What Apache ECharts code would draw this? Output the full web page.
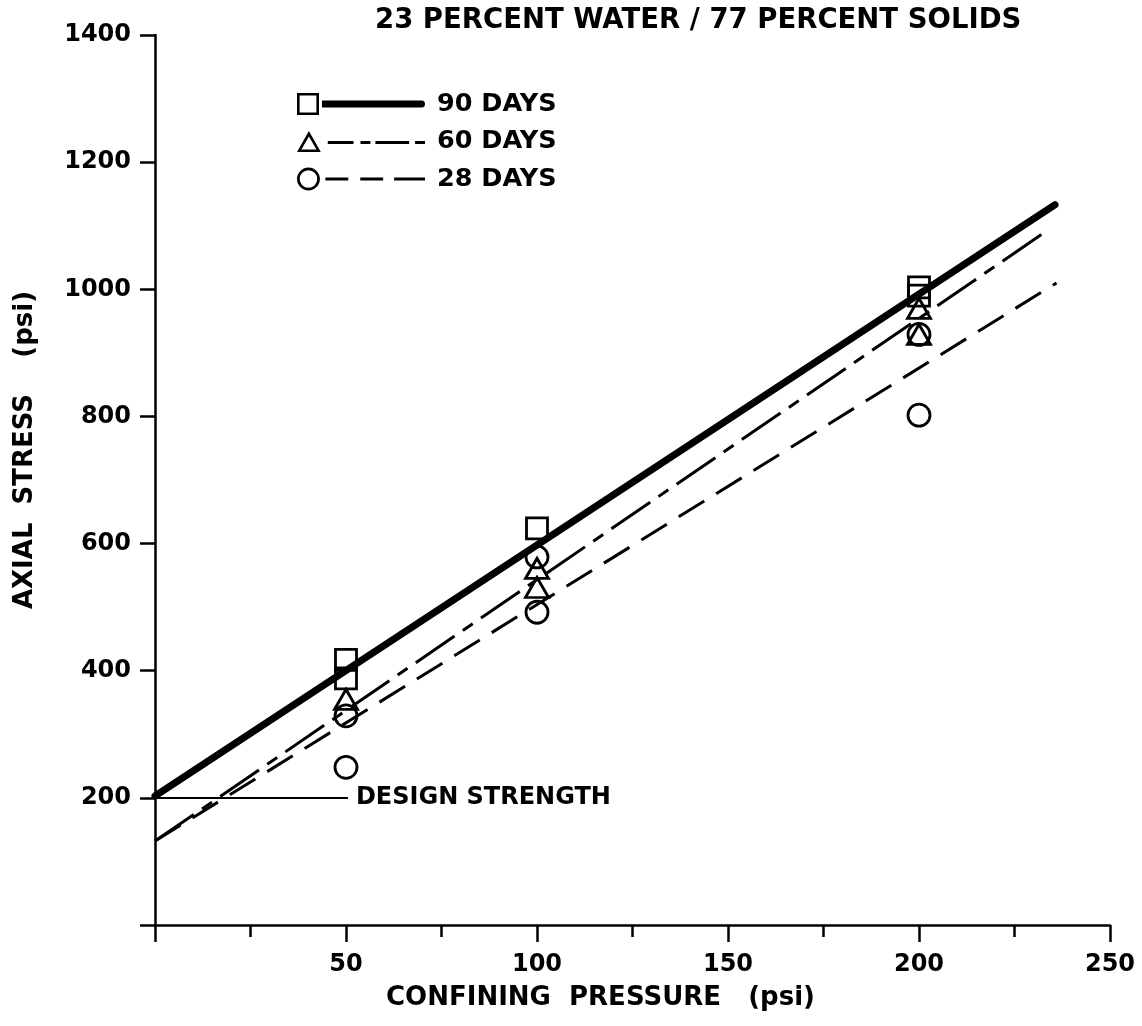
<!DOCTYPE html>
<html>
<head>
<meta charset="utf-8">
<title>Axial stress vs confining pressure</title>
<script src="https://cdn.jsdelivr.net/npm/echarts@6/dist/echarts.min.js"></script>
<style>
  html, body { margin: 0; padding: 0; background: #fff; }
  #chart { width: 1142px; height: 1026px; }
</style>
</head>
<body>
<div id="chart"></div>
<script>
// ---- text ----
const chartTitle = '23 PERCENT WATER / 77 PERCENT SOLIDS';
const xAxisTitle = 'CONFINING  PRESSURE   (psi)';
const yAxisTitle = 'AXIAL  STRESS    (psi)';
const seriesNames = ['90 DAYS', '60 DAYS', '28 DAYS'];
const designLabel = 'DESIGN STRENGTH';

// ---- tick labels ----
const xTickLabels = [50, 100, 150, 200, 250];
const yTickLabels = [200, 400, 600, 800, 1000, 1200, 1400];

// ---- test results: confining pressure (psi) / axial stress (psi) ----
const days90Pressure = [50, 50, 100, 200, 200];
const days90Stress   = [417, 388, 624, 1003, 990];
const days60Pressure = [50, 100, 100, 200, 200];
const days60Stress   = [355, 561, 531, 970, 929];
const days28Pressure = [50, 50, 100, 100, 200, 200];
const days28Stress   = [329, 248, 579, 492, 929, 802];

// ---- fitted strength lines (end points) ----
const fit90Pressure = [0, 235.6];
const fit90Stress   = [203, 1133];
const fit60Pressure = [0, 233];
const fit60Stress   = [132, 1090];
const fit28Pressure = [0, 236];
const fit28Stress   = [132, 1010];

// ---- design strength reference ----
const designStrength = 200;
const designReach = 50.5;

const FONT = 'DejaVu Sans';
const INK = '#000';

const pairs = (xs, ys) => xs.map((x, i) => [x, ys[i]]);

const hollow = { color: 'rgba(0,0,0,0)', borderColor: INK, borderWidth: 2.8, opacity: 1 };

// legend keys: marker outline followed by a sample of the line style
const legendIcons = [
  'path://M0 1H22V23H0Z M2.6 3.6V20.4H19.4V3.6Z M25 8.5H124.5A3.5 3.5 0 0 1 124.5 15.5H25Z',
  'path://M11 0.5L23 21.5H-1Z M11 6L3.4 19H18.6Z M30 10.5H56V13.5H30Z M63 10.5H73V13.5H63Z M78 10.5H112V13.5H78Z M118 10.5H128V13.5H118Z',
  'path://M-0.5 12A11.5 11.5 0 1 1 22.5 12A11.5 11.5 0 1 1 -0.5 12Z M2.2 12A8.8 8.8 0 1 0 19.8 12A8.8 8.8 0 1 0 2.2 12Z M28 10.5H51V13.5H28Z M63 10.5H86V13.5H63Z M97 10.5H128V13.5H97Z'
];

const boldText = (size) => ({ fontFamily: FONT, fontWeight: 'bold', fontSize: size, color: INK });

const fitLine = (name, xs, ys, width, type, cap) => ({
  name, type: 'line', data: pairs(xs, ys),
  showSymbol: false, symbol: 'none', silent: true, z: 3,
  lineStyle: { color: INK, width, type, cap: cap || 'butt', opacity: 1 },
  emphasis: { disabled: true }
});

const markers = (name, xs, ys, symbol, size) => ({
  name, type: 'scatter', data: pairs(xs, ys),
  symbol, symbolSize: size, silent: true, z: 4,
  itemStyle: hollow,
  emphasis: { disabled: true }
});

const chart = echarts.init(document.getElementById('chart'), null, { renderer: 'canvas' });

chart.setOption({
  backgroundColor: '#fff',
  animation: false,
  title: {
    text: chartTitle,
    left: 375, top: 7, padding: 0,
    textStyle: boldText(27.5)
  },
  legend: {
    orient: 'vertical',
    left: 297, top: 91, padding: 0,
    itemWidth: 128, itemHeight: 24, itemGap: 11.5,
    selectedMode: false,
    textStyle: Object.assign(boldText(25.5), { padding: [0, 0, 0, 7] }),
    data: seriesNames.map((n, i) => ({
      name: n, icon: legendIcons[i],
      itemStyle: { color: INK, borderWidth: 0, opacity: 1 }
    }))
  },
  grid: { left: 155, right: 32, top: 35, bottom: 101, outerBoundsMode: 'none', containLabel: false },
  xAxis: {
    type: 'value', min: 0, max: 250, interval: 50,
    name: xAxisTitle, nameLocation: 'middle', nameGap: 60,
    nameTextStyle: Object.assign(boldText(26), { padding: [0, 64, 0, 0] }),
    axisLine: { show: true, onZero: false, lineStyle: { color: INK, width: 2.5 } },
    axisTick: { show: true, inside: false, length: 17, lineStyle: { color: INK, width: 2.5 } },
    minorTick: { show: true, splitNumber: 2, length: 12, lineStyle: { color: INK, width: 2.5 } },
    axisLabel: {
      margin: 28, ...boldText(24),
      formatter: v => (xTickLabels.includes(v) ? String(v) : '')
    },
    splitLine: { show: false }, minorSplitLine: { show: false }
  },
  yAxis: {
    type: 'value', min: 0, max: 1400, interval: 200,
    name: yAxisTitle, nameLocation: 'middle', nameGap: 117,
    nameTextStyle: Object.assign(boldText(26), { padding: [0, 0, 0, 60] }),
    axisLine: { show: true, onZero: false, lineStyle: { color: INK, width: 2.5 } },
    axisTick: { show: true, inside: false, length: 15, lineStyle: { color: INK, width: 2.5 } },
    axisLabel: {
      margin: 24, ...boldText(24),
      formatter: v => (yTickLabels.includes(v) ? String(v) : '')
    },
    splitLine: { show: false }
  },
  series: [
    fitLine(seriesNames[0], fit90Pressure, fit90Stress, 7, 'solid', 'round'),
    fitLine(seriesNames[1], fit60Pressure, fit60Stress, 3, [47, 10, 12, 10]),
    fitLine(seriesNames[2], fit28Pressure, fit28Stress, 3, [30, 14]),
    markers(seriesNames[0], days90Pressure, days90Stress, 'rect', 21),
    markers(seriesNames[1], days60Pressure, days60Stress, 'triangle', [23, 20]),
    markers(seriesNames[2], days28Pressure, days28Stress, 'circle', 22),
    {
      name: 'design', type: 'line', data: [], silent: true,
      markLine: {
        silent: true, animation: false,
        symbol: ['none', 'none'],
        lineStyle: { color: INK, width: 2, type: 'solid' },
        emphasis: { disabled: true },
        label: Object.assign({ show: true, position: 'end', distance: 8, formatter: designLabel }, boldText(24)),
        data: [[{ coord: [0, designStrength] }, { coord: [designReach, designStrength] }]]
      }
    }
  ]
});
</script>
</body>
</html>
